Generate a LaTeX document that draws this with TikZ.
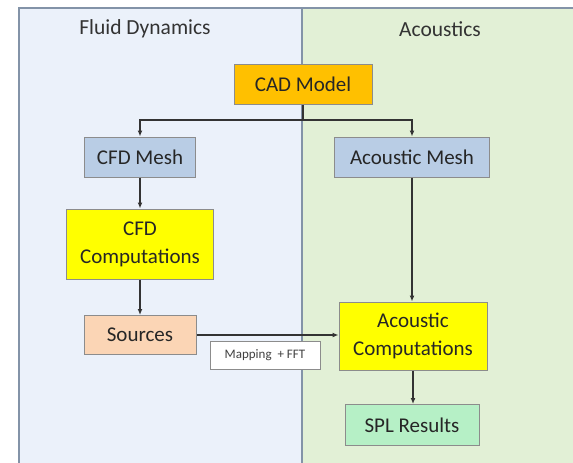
\documentclass[tikz,border=0pt]{standalone}
\usepackage{fontspec}
\setmainfont{Carlito}
\usetikzlibrary{arrows.meta}
\definecolor{leftbg}{HTML}{EBF1FA}
\definecolor{rightbg}{HTML}{E2F0D6}
\definecolor{panelline}{HTML}{8393A8}
\definecolor{cadfill}{HTML}{FFC000}
\definecolor{meshfill}{HTML}{B9CDE5}
\definecolor{compfill}{HTML}{FFFF00}
\definecolor{srcfill}{HTML}{FBD5B5}
\definecolor{splfill}{HTML}{B6F0C6}
\definecolor{boxline}{HTML}{8C8C8C}
\definecolor{conn}{HTML}{333333}
\begin{document}
\begin{tikzpicture}[x=1pt,y=-1pt,
  box/.style={draw=boxline,line width=1pt,inner sep=0pt,align=center,font=\fontsize{21}{28}\selectfont,text=black!85},
  link/.style={draw=conn,line width=1.2pt,-{Latex[length=6pt,width=5pt]}},
  title/.style={font=\fontsize{21.5}{24}\selectfont,text=black!80}]
\useasboundingbox (0,0) rectangle (573,463);
% panels
\fill[leftbg] (19,8) rectangle (302,480);
\fill[rightbg] (302,8) rectangle (590,480);
\draw[panelline,line width=1.2pt] (19,480) -- (19,8) -- (590,8);
\draw[panelline,line width=1.2pt] (302,8) -- (302,480);
\node[title] (tfd) at (145,29) {Fluid Dynamics};
\node[title] (tac) at (440,29) {Acoustics};
% nodes
\node[box,fill=cadfill,minimum width=138pt,minimum height=40pt] (cad) at (303,84) {CAD Model};
\node[box,fill=meshfill,minimum width=111pt,minimum height=40pt] (cfdmesh) at (140,157) {CFD Mesh};
\node[box,fill=meshfill,minimum width=155pt,minimum height=40pt] (acmesh) at (412,157) {Acoustic Mesh};
\node[box,fill=compfill,minimum width=147pt,minimum height=70pt] (cfdcomp) at (140,244) {CFD\\Computations};
\node[box,fill=srcfill,minimum width=112pt,minimum height=39pt] (sources) at (140,335) {Sources};
\node[box,fill=compfill,minimum width=148pt,minimum height=68pt] (accomp) at (413,336) {Acoustic\\Computations};
\node[box,fill=splfill,minimum width=134pt,minimum height=41pt] (spl) at (412,425) {SPL Results};
\node[draw=boxline,line width=0.8pt,fill=white,minimum width=110pt,minimum height=28pt,inner sep=0pt,font=\fontsize{13}{15}\selectfont,text=black!75] (map) at (265,355) {Mapping\ \ + FFT};
% connectors
\coordinate (split) at (303,120);
\draw[draw=conn,line width=1.2pt] (cad.south) -- (split);
\draw[link] (split) -| (cfdmesh.north);
\draw[link] (split) -| (acmesh.north);
\draw[link] (cfdmesh) -- (cfdcomp);
\draw[link] (cfdcomp) -- (sources);
\draw[link] (acmesh.south) -- (acmesh.south |- accomp.north);
\draw[link] (sources.east) -- (sources.east -| accomp.west);
\draw[link] (accomp.south) -- (accomp.south |- spl.north);
\end{tikzpicture}
\end{document}
